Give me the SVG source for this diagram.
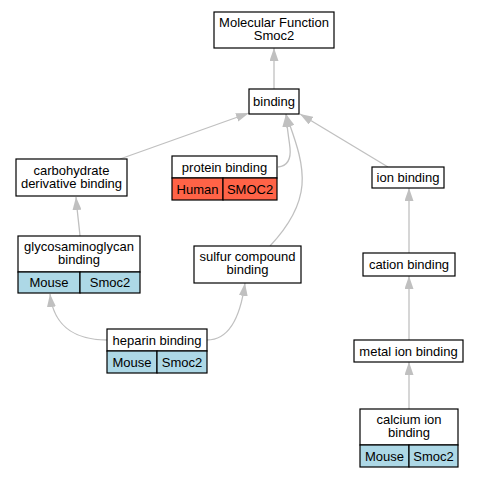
<svg xmlns="http://www.w3.org/2000/svg" width="479" height="477" viewBox="0 0 479 477">
<style>
text{font-family:"Liberation Sans",Arial,sans-serif;font-size:13px;fill:#000;text-anchor:middle}
.box{fill:#fff;stroke:#000;stroke-width:1.2}
.blue{fill:#add8e6;stroke:#000;stroke-width:1.2}
.red{fill:#ff6347;stroke:#000;stroke-width:1.2}
.edge{fill:none;stroke:#c0c0c0;stroke-width:1.3}
</style>
<defs>
<marker id="ah" viewBox="0 0 13 9" refX="13" refY="4.5" markerWidth="13" markerHeight="9" markerUnits="userSpaceOnUse" orient="auto">
<path d="M0,0 L13,4.5 L0,9 Z" fill="#c0c0c0"/>
</marker>
</defs>
<rect width="479" height="477" fill="#fff"/>
<g id="edges">
<path class="edge" marker-end="url(#ah)" d="M274,89 L274,48"/>
<path class="edge" marker-end="url(#ah)" d="M120,159 L249,113"/>
<path class="edge" marker-end="url(#ah)" d="M278,167 C288,166 291,158 290,148 C289,138 287,130 286,114"/>
<path class="edge" marker-end="url(#ah)" d="M270,246 C285,230 300,210 302,185 C304,160 293,135 286,114"/>
<path class="edge" marker-end="url(#ah)" d="M388,167 L300,114"/>
<path class="edge" marker-end="url(#ah)" d="M80,236 C79,225 77,210 76,197"/>
<path class="edge" marker-end="url(#ah)" d="M107,340 C80,340 54,330 50,294"/>
<path class="edge" marker-end="url(#ah)" d="M207,340 C228,340 240,320 245,283"/>
<path class="edge" marker-end="url(#ah)" d="M409,253 L409,188"/>
<path class="edge" marker-end="url(#ah)" d="M409,340 L409,276"/>
<path class="edge" marker-end="url(#ah)" d="M409,409 L409,362"/>
</g>
<g id="mf">
<rect class="box" x="214" y="12" width="120" height="36"/>
<text x="274" y="27">Molecular Function</text>
<text x="274" y="40">Smoc2</text>
</g>
<g id="binding">
<rect class="box" x="249" y="89" width="50" height="25"/>
<text x="274" y="106">binding</text>
</g>
<g id="carbohydrate">
<rect class="box" x="16" y="159" width="111" height="37"/>
<text x="71.5" y="174.5">carbohydrate</text>
<text x="71.5" y="187.5">derivative binding</text>
</g>
<g id="protein">
<rect class="box" x="172" y="156" width="105" height="22"/>
<rect class="red" x="172" y="178" width="51" height="22"/>
<rect class="red" x="223" y="178" width="54" height="22"/>
<text x="224.5" y="171.5">protein binding</text>
<text x="197.5" y="193.5">Human</text>
<text x="250" y="193.5">SMOC2</text>
</g>
<g id="glyco">
<rect class="box" x="18" y="236" width="122" height="36"/>
<rect class="blue" x="18" y="272" width="62" height="21"/>
<rect class="blue" x="80" y="272" width="60" height="21"/>
<text x="79" y="251">glycosaminoglycan</text>
<text x="79" y="264">binding</text>
<text x="49" y="287">Mouse</text>
<text x="110" y="287">Smoc2</text>
</g>
<g id="sulfur">
<rect class="box" x="194" y="246" width="107" height="37"/>
<text x="247.5" y="261">sulfur compound</text>
<text x="247.5" y="274">binding</text>
</g>
<g id="heparin">
<rect class="box" x="107" y="329" width="100" height="22"/>
<rect class="blue" x="107" y="351" width="50" height="22"/>
<rect class="blue" x="157" y="351" width="50" height="22"/>
<text x="157" y="344.5">heparin binding</text>
<text x="132" y="366.5">Mouse</text>
<text x="182" y="366.5">Smoc2</text>
</g>
<g id="ion">
<rect class="box" x="372" y="167" width="72" height="21"/>
<text x="408" y="182">ion binding</text>
</g>
<g id="cation">
<rect class="box" x="363" y="253" width="92" height="23"/>
<text x="409" y="269">cation binding</text>
</g>
<g id="metal">
<rect class="box" x="354" y="340" width="109" height="22"/>
<text x="408.5" y="355.5">metal ion binding</text>
</g>
<g id="calcium">
<rect class="box" x="360" y="409" width="98" height="36"/>
<rect class="blue" x="360" y="445" width="49" height="22"/>
<rect class="blue" x="409" y="445" width="49" height="22"/>
<text x="409" y="424">calcium ion</text>
<text x="409" y="437">binding</text>
<text x="384.5" y="460.5">Mouse</text>
<text x="433.5" y="460.5">Smoc2</text>
</g>
</svg>
